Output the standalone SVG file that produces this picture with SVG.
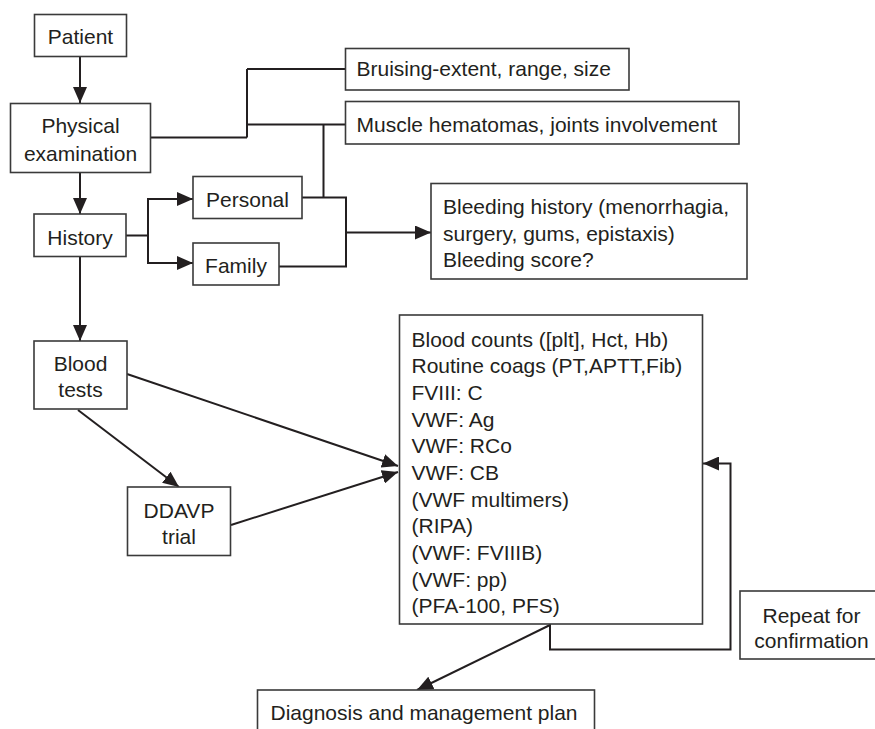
<svg xmlns="http://www.w3.org/2000/svg" width="875" height="729" viewBox="0 0 875 729">
<defs>
<style>
.box{fill:#fff;stroke:#3a3a3a;stroke-width:1.6}
.ln{fill:none;stroke:#231f20;stroke-width:2}
.t{font-family:"Liberation Sans",Arial,Helvetica,sans-serif;font-size:21px;fill:#231f20}
.c{text-anchor:middle}
</style>
<marker id="ah" markerUnits="userSpaceOnUse" markerWidth="17" markerHeight="14" refX="16" refY="7" orient="auto">
<path d="M0,0 L16,7 L0,14 z" fill="#231f20"/>
</marker>
</defs>
<rect width="875" height="729" fill="#fff"/>
<g id="connectors">
<line class="ln" x1="80" y1="57" x2="80" y2="103" marker-end="url(#ah)"/>
<line class="ln" x1="80" y1="173" x2="80" y2="214" marker-end="url(#ah)"/>
<line class="ln" x1="80" y1="257" x2="80" y2="341" marker-end="url(#ah)"/>
<path class="ln" d="M150,137.5 H247 M247,69 V137.5 M247,69 H345 M247,124.5 H345 M323.5,124.5 V197.5"/>
<path class="ln" d="M126,235.5 H148 M148,199 V263"/>
<line class="ln" x1="147" y1="199" x2="193" y2="199" marker-end="url(#ah)"/>
<line class="ln" x1="147" y1="263" x2="193" y2="263" marker-end="url(#ah)"/>
<path class="ln" d="M302,197.5 H346 V266.5 H279"/>
<line class="ln" x1="346" y1="232.5" x2="431" y2="232.5" marker-end="url(#ah)"/>
<line class="ln" x1="127" y1="374" x2="398" y2="466" marker-end="url(#ah)"/>
<line class="ln" x1="78" y1="410" x2="179" y2="487" marker-end="url(#ah)"/>
<line class="ln" x1="231" y1="525" x2="398" y2="472" marker-end="url(#ah)"/>
<path class="ln" d="M550,624 V649.5 H730.5 V463.5 H703" marker-end="url(#ah)"/>
<line class="ln" x1="550" y1="625" x2="417" y2="690" marker-end="url(#ah)"/>
</g>
<g id="patient">
<rect class="box" x="34.5" y="14.5" width="92" height="42"/>
<text class="t c" x="80.5" y="44">Patient</text>
</g>
<g id="physical">
<rect class="box" x="10.5" y="103.5" width="140" height="69"/>
<text class="t c" x="80.5" y="133">Physical</text>
<text class="t c" x="80.5" y="160.5">examination</text>
</g>
<g id="bruising">
<rect class="box" x="345.5" y="48.5" width="283.5" height="41.5"/>
<text class="t" x="356.5" y="76">Bruising-extent, range, size</text>
</g>
<g id="muscle">
<rect class="box" x="345.5" y="101.5" width="393.5" height="42.5"/>
<text class="t" x="356.5" y="132">Muscle hematomas, joints involvement</text>
</g>
<g id="history">
<rect class="box" x="34" y="214" width="92" height="42.5"/>
<text class="t c" x="80" y="245">History</text>
</g>
<g id="personal">
<rect class="box" x="193" y="176.5" width="109" height="42"/>
<text class="t c" x="247.5" y="206.5">Personal</text>
</g>
<g id="family">
<rect class="box" x="193" y="243" width="86" height="42"/>
<text class="t c" x="236" y="272.5">Family</text>
</g>
<g id="bleeding">
<rect class="box" x="431" y="183.5" width="316" height="95.5"/>
<text class="t" x="443" y="214">Bleeding history (menorrhagia,</text>
<text class="t" x="443" y="240.5">surgery, gums, epistaxis)</text>
<text class="t" x="443" y="267">Bleeding score?</text>
</g>
<g id="bloodtests">
<rect class="box" x="34" y="341" width="93" height="68"/>
<text class="t c" x="80.5" y="371">Blood</text>
<text class="t c" x="80.5" y="397">tests</text>
</g>
<g id="ddavp">
<rect class="box" x="127.5" y="487" width="103" height="68.5"/>
<text class="t c" x="179" y="517.5">DDAVP</text>
<text class="t c" x="179" y="544">trial</text>
</g>
<g id="tests">
<rect class="box" x="399.5" y="315" width="303" height="309"/>
<text class="t" x="411.5" y="346.7">Blood counts ([plt], Hct, Hb)</text>
<text class="t" x="411.5" y="373.4">Routine coags (PT,APTT,Fib)</text>
<text class="t" x="411.5" y="400">FVIII: C</text>
<text class="t" x="411.5" y="426.7">VWF: Ag</text>
<text class="t" x="411.5" y="453.4">VWF: RCo</text>
<text class="t" x="411.5" y="480">VWF: CB</text>
<text class="t" x="411.5" y="506.7">(VWF multimers)</text>
<text class="t" x="411.5" y="533.4">(RIPA)</text>
<text class="t" x="411.5" y="560">(VWF: FVIIIB)</text>
<text class="t" x="411.5" y="586.7">(VWF: pp)</text>
<text class="t" x="411.5" y="613.4">(PFA-100, PFS)</text>
</g>
<g id="repeat">
<rect class="box" x="740" y="591" width="145" height="68"/>
<text class="t c" x="811.5" y="623">Repeat for</text>
<text class="t c" x="811.5" y="647.5">confirmation</text>
</g>
<g id="diagnosis">
<rect class="box" x="257.5" y="690" width="337" height="60"/>
<text class="t" x="270.5" y="720">Diagnosis and management plan</text>
</g>
</svg>
